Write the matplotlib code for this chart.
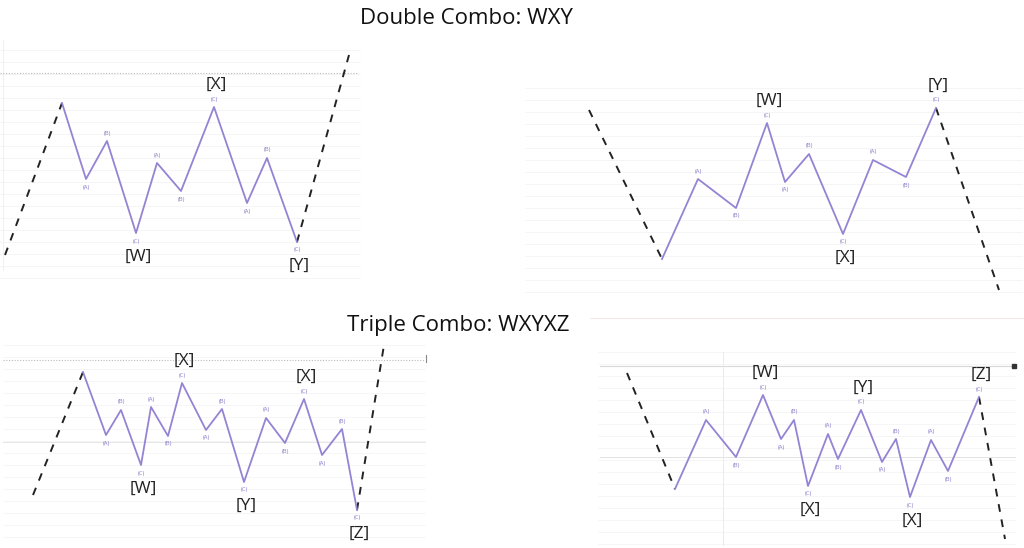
import matplotlib
matplotlib.use("Agg")
import matplotlib.pyplot as plt

plt.rcParams['font.family'] = ['Open Sans', 'DejaVu Sans']

WAVE_COLOR = '#9583d3'
SMALL_COLOR = '#8a78c8'

# wave pivots (x, y in picture pixels, y grows downward)
# first point = start of dashed lead-in, last point = end of dashed lead-out
p1_x = [5, 62, 86, 107, 136, 157, 181, 214, 247, 267, 297, 349]
p1_y = [255, 103, 179, 141, 233, 163, 191, 107, 203, 158, 242, 55]
p1_big = ['[W]', '[X]', '[Y]']

p2_x = [589, 662, 698, 736, 767, 785, 809, 843, 873, 906, 936, 999]
p2_y = [110, 259, 179, 208, 123, 182, 154, 234, 160, 177, 108, 290]
p2_big = ['[W]', '[X]', '[Y]']

p3_x = [33, 83, 106, 121, 141, 151, 168, 182, 206, 222, 244, 266, 285, 304, 322, 342, 357, 384]
p3_y = [495, 372, 435, 410, 465, 407, 436, 383, 430, 409, 482, 418, 443, 399, 455, 429, 510, 345]
p3_big = ['[W]', '[X]', '[Y]', '[X]', '[Z]']

p4_x = [627, 675, 706, 736, 763, 781, 794, 808, 828, 838, 861, 882, 896, 910, 931, 948, 979, 1005]
p4_y = [373, 489, 420, 457, 395, 439, 420, 486, 434, 459, 410, 462, 439, 497, 440, 471, 397, 539]
p4_big = ['[W]', '[X]', '[Y]', '[X]', '[Z]']

sub_labels = ['(A)', '(B)', '(C)']

titles = ['Double Combo: WXY', 'Triple Combo: WXYXZ']
title_pos = [(466, 19), (458, 326)]


def draw_wave(ax, xs, ys, big_labels):
    ax.plot(xs[:2], ys[:2], color='#222222', lw=1.4, ls=(0, (4, 4)))
    ax.plot(xs[-2:], ys[-2:], color='#222222', lw=1.4, ls=(0, (4, 4)))
    ax.plot(xs[1:-1], ys[1:-1], color=WAVE_COLOR, lw=1.3)
    k = 0
    for i in range(2, len(xs) - 1):
        peak = ys[i] < ys[i - 1]
        lab = sub_labels[(i - 2) % 3]
        dy = -8 if peak else 8
        ax.text(xs[i], ys[i] + dy, lab, color=SMALL_COLOR, fontsize=4.2,
                ha='center', va='center')
        if lab == '(C)':
            dyb = -22 if peak else 24
            ax.text(xs[i] + 2, ys[i] + dyb, big_labels[k], color='#222222',
                    fontsize=12.5, ha='center', va='center')
            k += 1


fig = plt.figure(figsize=(10.24, 5.48), dpi=100)
ax = fig.add_axes([0, 0, 1, 1])
ax.set_xlim(0, 1024)
ax.set_ylim(548, 0)
ax.axis('off')

# faint background grids of the four screenshots
for y in range(50, 280, 12):
    ax.plot([0, 360], [y, y], color='#f4f4f4', lw=0.6)
for y in range(88, 300, 12):
    ax.plot([525, 1022], [y, y], color='#f4f4f4', lw=0.6)
for y in range(345, 545, 12):
    ax.plot([3, 425], [y, y], color='#f5f5f5', lw=0.6)
for y in range(352, 545, 12):
    ax.plot([598, 1015], [y, y], color='#f5f5f5', lw=0.6)
ax.plot([3, 3], [40, 270], color='#eeeeee', lw=0.6)
ax.plot([0, 358], [73, 73], color='#bbbbbb', lw=0.8, ls=(0, (1, 1.5)))
ax.plot([3, 425], [360, 360], color='#bbbbbb', lw=0.8, ls=(0, (1, 1.5)))
ax.plot([3, 425], [442, 442], color='#e6e6e6', lw=0.7)
ax.plot([426, 426], [355, 362], color='#888888', lw=0.8)
ax.plot([600, 1012], [366, 366], color='#d8d8d8', lw=0.8)
ax.plot([600, 1015], [457, 457], color='#e3e3e3', lw=0.7)
ax.plot([723, 723], [352, 545], color='#ebebeb', lw=0.7)
ax.plot([590, 1024], [318, 318], color='#f6e0e0', lw=0.6)
ax.plot([1014], [366], marker='s', ms=3.5, color='#333333')

draw_wave(ax, p1_x, p1_y, p1_big)
draw_wave(ax, p2_x, p2_y, p2_big)
draw_wave(ax, p3_x, p3_y, p3_big)
draw_wave(ax, p4_x, p4_y, p4_big)

for t, (tx, ty) in zip(titles, title_pos):
    ax.text(tx, ty, t, fontsize=16, ha='center', va='center', color='#111111')

fig.savefig('out.png', dpi=100)
